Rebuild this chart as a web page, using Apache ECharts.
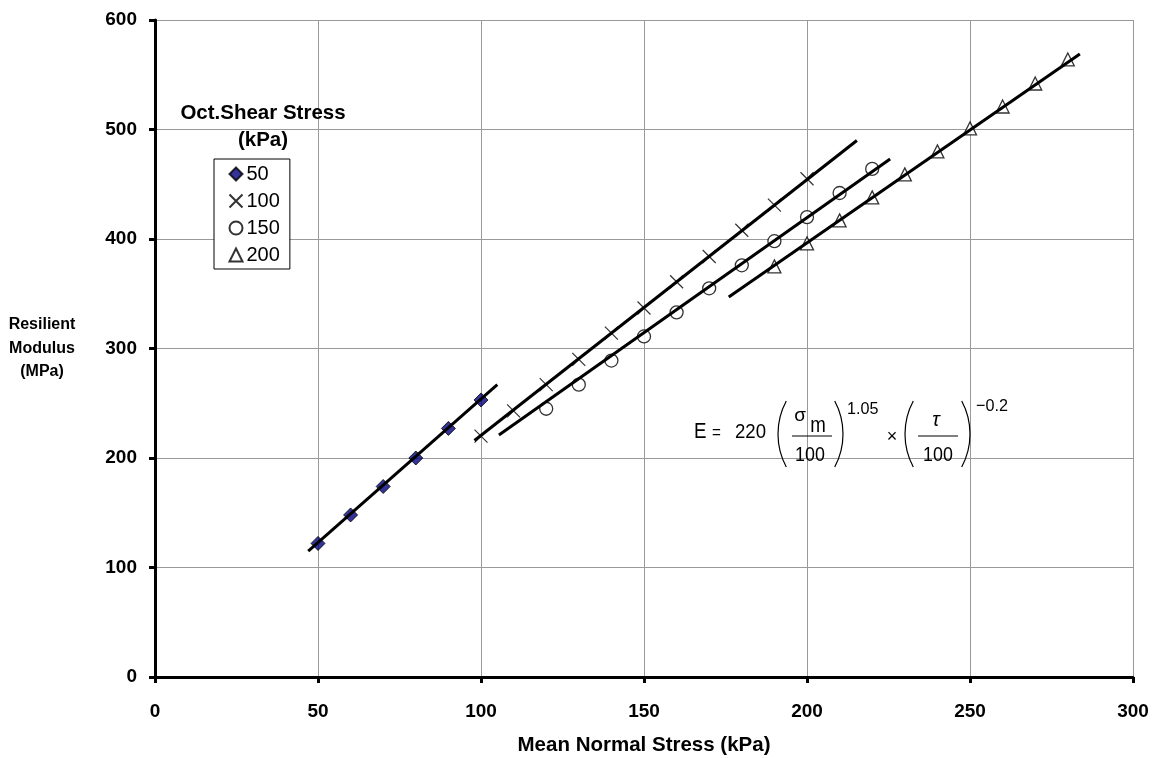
<!DOCTYPE html>
<html>
<head>
<meta charset="utf-8">
<script src="https://cdn.jsdelivr.net/npm/echarts@6/dist/echarts.min.js"></script>
<style>
html,body{margin:0;padding:0;background:#fff;}
#c{width:1153px;height:758px;}
</style>
</head>
<body>
<div id="c"></div>
<script>
// ---- data ----
const seriesNames = ['50', '100', '150', '200'];
const s50x = [50, 60, 70, 80, 90, 100];
const s50y = [122, 148, 174, 200, 227, 253];
const s100x = [100, 110, 120, 130, 140, 150, 160, 170, 180, 190, 200];
const s100y = [220, 243, 267, 290, 314, 337, 361, 384, 408, 431, 455];
const s150x = [120, 130, 140, 150, 160, 170, 180, 190, 200, 210, 220];
const s150y = [245, 267, 289, 311, 333, 355, 376, 398, 420, 442, 464];
const s200x = [190, 200, 210, 220, 230, 240, 250, 260, 270, 280];
const s200y = [375, 396, 417, 438, 459, 480, 501, 521, 542, 564];
// trend-line end points
const fit50 = [[47, 115], [105, 267]];
const fit100 = [[98, 216], [215.3, 490]];
const fit150 = [[105.5, 221], [225.5, 473]];
const fit200 = [[176, 347], [283.7, 569]];

const pairs = (xs, ys) => xs.map((x, i) => [x, ys[i]]);
const FONT = '"Liberation Sans", Arial, sans-serif';
const EQF = '"Liberation Sans", Arial, sans-serif';
const crossPath = 'path://M0,0L10,10M10,0L0,10';

const chart = echarts.init(document.getElementById('c'), null, {renderer: 'canvas'});

function paren(xEdge, y0, y1, left) {
  const r = 70, cy = (y0 + y1) / 2, half = (y1 - y0) / 2;
  const th = Math.asin(half / r);
  return {
    type: 'arc', z: 100,
    shape: left
      ? {cx: xEdge + r, cy: cy, r: r, startAngle: Math.PI - th, endAngle: Math.PI + th, clockwise: true}
      : {cx: xEdge - r, cy: cy, r: r, startAngle: -th, endAngle: th, clockwise: true},
    style: {stroke: '#000', lineWidth: 1.2, fill: null}
  };
}
function txt(x, y, t, size, align, sx, italic) {
  return {
    type: 'text', z: 100, x: x, y: y, scaleX: sx || 1,
    style: {text: t, fontSize: size, fontFamily: EQF, fontStyle: italic ? 'italic' : 'normal',
      fill: '#000', align: align || 'left', verticalAlign: 'middle'}
  };
}
function btxt(x, y, t, size) {
  return {
    type: 'text', z: 100, x: x, y: y,
    style: {text: t, fontSize: size, fontWeight: 'bold', fontFamily: FONT, fill: '#000', align: 'center', verticalAlign: 'middle'}
  };
}

const scatterCommon = {type: 'scatter', z: 3, emphasis: {disabled: true}};
const lineCommon = {type: 'line', showSymbol: false, symbol: 'none', z: 5, silent: true,
  lineStyle: {color: '#000', width: 3}, emphasis: {disabled: true}};

chart.setOption({
  animation: false,
  backgroundColor: '#fff',
  textStyle: {fontFamily: FONT},
  grid: {left: 155, right: 20, top: 20, bottom: 81, containLabel: false, outerBoundsMode: 'none'},
  xAxis: {
    type: 'value', min: 0, max: 300, interval: 50,
    name: 'Mean Normal Stress (kPa)', nameLocation: 'middle', nameGap: 58,
    nameTextStyle: {fontFamily: FONT, fontWeight: 'bold', fontSize: 20.5, color: '#000'},
    axisLine: {show: true, onZero: false, lineStyle: {color: '#000', width: 3}},
    axisTick: {show: true, inside: false, length: 6, lineStyle: {color: '#000', width: 3}},
    axisLabel: {fontFamily: FONT, fontWeight: 'bold', fontSize: 19, color: '#000', margin: 25},
    splitLine: {show: true, lineStyle: {color: '#999', width: 1}}
  },
  yAxis: {
    type: 'value', min: 0, max: 600, interval: 100,
    name: 'Resilient\nModulus\n(MPa)', nameLocation: 'middle', nameGap: 113, nameRotate: 0,
    nameTextStyle: {fontFamily: FONT, fontWeight: 'bold', fontSize: 16, color: '#000', align: 'center', lineHeight: 23.5},
    axisLine: {show: true, onZero: false, lineStyle: {color: '#000', width: 3}},
    axisTick: {show: true, inside: false, length: 6, lineStyle: {color: '#000', width: 3}},
    axisLabel: {fontFamily: FONT, fontWeight: 'bold', fontSize: 19, color: '#000', margin: 18},
    splitLine: {show: true, lineStyle: {color: '#999', width: 1}}
  },
  legend: {
    show: true, orient: 'vertical', left: 214, top: 159,
    data: seriesNames,
    backgroundColor: '#fff', borderColor: '#000', borderWidth: 1, borderRadius: 0,
    padding: [5, 10, 4, 13], itemGap: 7, itemWidth: 13, itemHeight: 13,
    selectedMode: false,
    textStyle: {fontFamily: FONT, fontSize: 20, color: '#000', padding: [0, 0, 0, -1]}
  },
  graphic: [
    btxt(263, 113, 'Oct.Shear Stress', 20.5),
    btxt(263, 140, '(kPa)', 20.5),
    // equation
    txt(694, 432, 'E', 22, 'left', 0.85),
    txt(712, 433, '=', 19, 'left', 0.8),
    txt(735, 432, '220', 20, 'left', 0.93),
    paren(778, 401, 467, true),
    txt(800, 416, 'σ', 19, 'center'),
    txt(818, 426, 'm', 22, 'center', 0.85),
    {type: 'line', z: 100, shape: {x1: 792, y1: 436, x2: 832, y2: 436}, style: {stroke: '#000', lineWidth: 1.2}},
    txt(810, 455, '100', 21, 'center', 0.85),
    paren(843, 401, 467, false),
    txt(847, 409, '1.05', 17, 'left', 0.95),
    txt(892, 437, '×', 18, 'center'),
    paren(905, 401, 467, true),
    txt(936, 420, 'τ', 20, 'center', 1, true),
    {type: 'line', z: 100, shape: {x1: 918, y1: 436, x2: 958, y2: 436}, style: {stroke: '#000', lineWidth: 1.2}},
    txt(938, 455, '100', 21, 'center', 0.85),
    paren(970, 401, 467, false),
    txt(976, 406, '−0.2', 17, 'left', 0.95)
  ],
  series: [
    Object.assign({}, scatterCommon, {name: '50', data: pairs(s50x, s50y), symbol: 'diamond', symbolSize: 14,
      itemStyle: {color: '#000080', borderColor: '#000', borderWidth: 1}}),
    Object.assign({}, scatterCommon, {name: '100', data: pairs(s100x, s100y), symbol: crossPath, symbolSize: 13,
      itemStyle: {color: 'none', borderColor: '#000', borderWidth: 1.2}}),
    Object.assign({}, scatterCommon, {name: '150', data: pairs(s150x, s150y), symbol: 'circle', symbolSize: 13,
      itemStyle: {color: '#fff', borderColor: '#000', borderWidth: 1.3}}),
    Object.assign({}, scatterCommon, {name: '200', data: pairs(s200x, s200y), symbol: 'triangle', symbolSize: 13,
      itemStyle: {color: '#fff', borderColor: '#000', borderWidth: 1.3}}),
    Object.assign({}, lineCommon, {name: 'fit50', data: fit50}),
    Object.assign({}, lineCommon, {name: 'fit100', data: fit100}),
    Object.assign({}, lineCommon, {name: 'fit150', data: fit150}),
    Object.assign({}, lineCommon, {name: 'fit200', data: fit200})
  ]
});
</script>
</body>
</html>
